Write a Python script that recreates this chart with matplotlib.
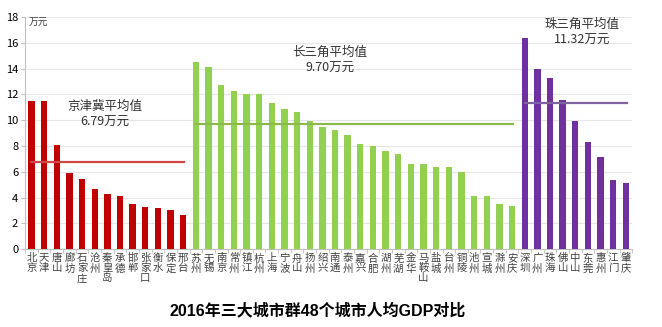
import matplotlib.pyplot as plt
import numpy as np

plt.rcParams['font.family'] = ['Noto Sans CJK SC', 'DejaVu Sans']

jjj_cities = ['北京', '天津', '唐山', '廊坊', '石家庄', '沧州', '秦皇岛', '承德', '邯郸',
              '张家口', '衡水', '保定', '邢台']
jjj_gdp = [11.5, 11.45, 8.05, 5.9, 5.45, 4.7, 4.3, 4.1, 3.5, 3.3, 3.2, 3.0, 2.65]

yrd_cities = ['苏州', '无锡', '南京', '常州', '镇江', '杭州', '上海', '宁波', '舟山', '扬州',
              '绍兴', '南通', '泰州', '嘉兴', '合肥', '湖州', '芜湖', '金华', '马鞍山', '盐城',
              '台州', '铜陵', '池州', '宣城', '滁州', '安庆']
yrd_gdp = [14.53, 14.12, 12.72, 12.28, 12.05, 12.05, 11.37, 10.88, 10.62, 9.92,
           9.48, 9.27, 8.86, 8.19, 8.03, 7.59, 7.38, 6.63, 6.58, 6.35,
           6.35, 6.01, 4.09, 4.09, 3.52, 3.37]

prd_cities = ['深圳', '广州', '珠海', '佛山', '中山', '东莞', '惠州', '江门', '肇庆']
prd_gdp = [16.4, 13.99, 13.29, 11.6, 9.92, 8.29, 7.15, 5.34, 5.13]

means = [6.79, 9.70, 11.32]
mean_labels = ['京津冀平均值\n6.79万元', '长三角平均值\n9.70万元', '珠三角平均值\n11.32万元']

bar_colors = ['#C00000', '#92D050', '#7030A0']
line_colors = ['#D04545', '#8DB84A', '#8064A2']

fig = plt.figure(figsize=(6.62, 3.27), dpi=100)
ax = fig.add_axes([0.038, 0.238, 0.917, 0.71])

groups = [(jjj_cities, jjj_gdp), (yrd_cities, yrd_gdp), (prd_cities, prd_gdp)]
all_names = []
start = 0
label_pos = [(5.8, 10.45), (23.6, 14.65), (43.5, 16.8)]
for i, (names, vals) in enumerate(groups):
    x = np.arange(start, start + len(names))
    ax.bar(x, vals, width=0.5, color=bar_colors[i], zorder=3)
    ax.plot([x[0], x[-1] + 0.05], [means[i], means[i]], color=line_colors[i], lw=1.6, zorder=4)
    ax.text(label_pos[i][0], label_pos[i][1], mean_labels[i], ha='center', va='center',
            fontsize=9, color='#333333', linespacing=1.3, zorder=5)
    all_names += names
    start += len(names)

ax.set_xlim(-0.5, len(all_names) - 0.5)
ax.set_ylim(0, 18)
ax.set_yticks(np.arange(0, 19, 2))
ax.tick_params(axis='y', labelsize=8, length=3, color='#BFBFBF', pad=2)
ax.set_xticks(np.arange(len(all_names)))
ax.set_xticklabels(['\n'.join(n) for n in all_names], fontsize=7.5, linespacing=1.0, color='#404040')
ax.tick_params(axis='x', length=0, pad=3)
ax.set_xticks(np.arange(-0.5, len(all_names), 1), minor=True)
ax.tick_params(axis='x', which='minor', length=3, color='#BFBFBF')
ax.grid(axis='y', color='#E6E6E6', lw=0.8, zorder=0)
for s in ['top', 'right']:
    ax.spines[s].set_visible(False)
ax.spines['left'].set_color('#BFBFBF')
ax.spines['bottom'].set_color('#BFBFBF')

ax.text(0.005, 1.0, '万元', transform=ax.transAxes, fontsize=7, va='top', color='#404040')

fig.text(0.48, 0.052, '2016年三大城市群48个城市人均GDP对比', ha='center', va='center',
         fontsize=11.5, fontweight='bold', family=['Liberation Sans', 'Noto Sans CJK SC'])

plt.savefig('out.png')
